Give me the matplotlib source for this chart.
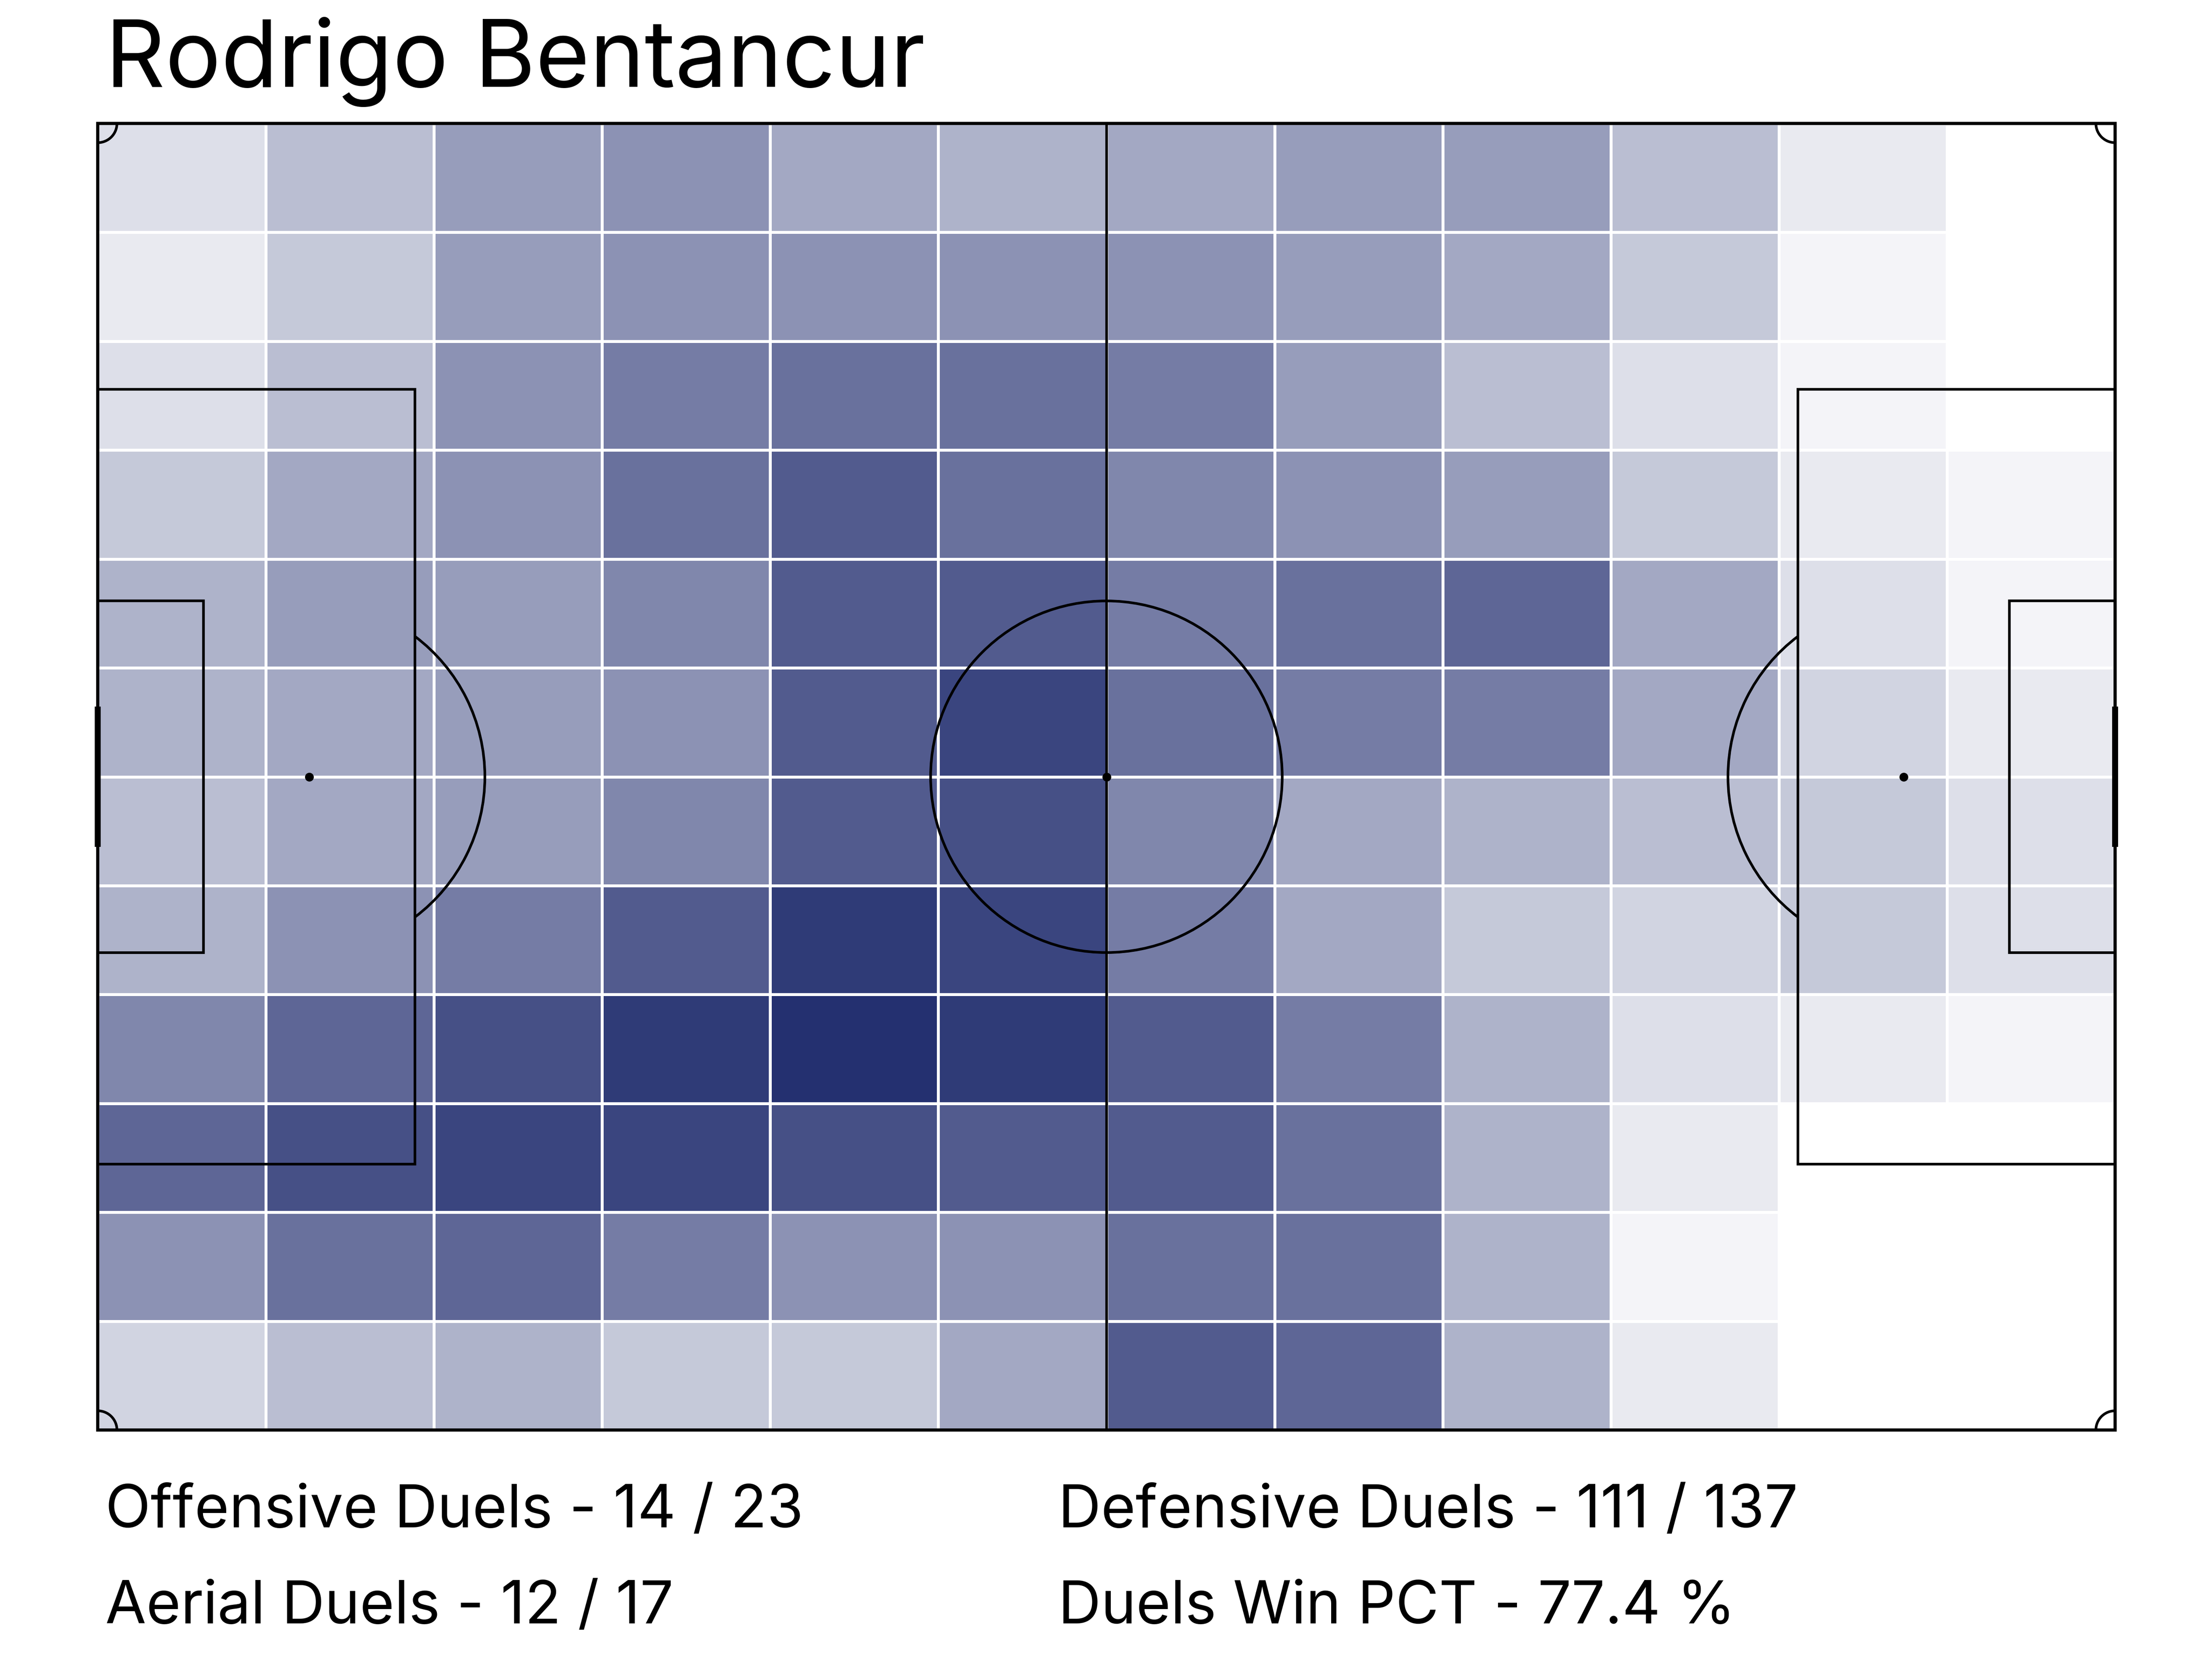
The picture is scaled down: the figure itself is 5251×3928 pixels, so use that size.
import numpy as np
import matplotlib
matplotlib.use("Agg")
import matplotlib.pyplot as plt
from matplotlib.colors import LinearSegmentedColormap
from matplotlib.patches import Rectangle, Arc, Circle

# ---------------- data ----------------
player_name = "Rodrigo Bentancur"
# duel counts per zone (12 rows top->bottom, 12 columns left->right)
row_00 = [3, 6, 9, 10, 8, 7, 8, 9, 9, 6, 2, 0]
row_01 = [2, 5, 9, 10, 10, 10, 10, 9, 8, 5, 1, 0]
row_02 = [3, 6, 10, 12, 13, 13, 12, 9, 6, 3, 1, 0]
row_03 = [5, 8, 10, 13, 15, 13, 11, 10, 9, 5, 2, 1]
row_04 = [7, 9, 9, 11, 15, 15, 12, 13, 14, 8, 3, 1]
row_05 = [7, 8, 9, 10, 15, 17, 13, 12, 12, 8, 4, 2]
row_06 = [6, 8, 9, 11, 15, 16, 11, 8, 7, 6, 5, 3]
row_07 = [7, 10, 12, 15, 18, 17, 12, 8, 5, 4, 5, 3]
row_08 = [11, 14, 16, 18, 19, 18, 15, 12, 7, 3, 2, 1]
row_09 = [14, 16, 17, 17, 16, 15, 15, 13, 7, 2, 0, 0]
row_10 = [10, 13, 14, 12, 10, 10, 13, 13, 7, 1, 0, 0]
row_11 = [4, 6, 7, 5, 5, 8, 15, 14, 7, 2, 0, 0]

stat_labels = ["Offensive Duels - 14 / 23", "Defensive Duels - 111 / 137",
               "Aerial Duels - 12 / 17", "Duels Win PCT - 77.4 %"]

# ---------------- figure ----------------
plt.rcParams['font.family'] = ['Inter', 'DejaVu Sans']
W, H, DPI = 5251, 3929, 300
fig = plt.figure(figsize=(W / DPI, H / DPI), dpi=DPI)
fig.patch.set_facecolor('white')

L, B = 232 / W, 1 - 3395 / H
ax = fig.add_axes([L, B, 4789 / W, 3101 / H])
ax.set_xlim(0, 105)
ax.set_ylim(0, 68)
ax.axis('off')

grid = np.array([row_00, row_01, row_02, row_03, row_04, row_05,
                 row_06, row_07, row_08, row_09, row_10, row_11], dtype=float)
nrows, ncols = grid.shape
x_edges = np.linspace(0, 105, ncols + 1)
y_edges = np.linspace(68, 0, nrows + 1)

cmap = LinearSegmentedColormap.from_list("duels", ["#FFFFFF", "#243070"])
ax.pcolormesh(x_edges, y_edges, grid, cmap=cmap, vmin=0, vmax=19,
              edgecolors='white', linewidth=1.6, zorder=1)

# ---------------- pitch ----------------
lc = 'black'
lw = 1.5
kw = dict(color=lc, lw=lw, zorder=3, clip_on=False)

ax.add_patch(Rectangle((0, 0), 105, 68, fill=False, ec=lc, lw=1.8, zorder=3, clip_on=False))
ax.plot([52.5, 52.5], [0, 68], **kw)
ax.add_patch(Circle((52.5, 34), 9.15, fill=False, ec=lc, lw=lw, zorder=3))
ang = np.degrees(np.arccos(5.5 / 9.15))
for side in (0, 1):
    if side == 0:
        ax.add_patch(Rectangle((0, 34 - 20.16), 16.5, 40.32, fill=False, ec=lc, lw=lw, zorder=3))
        ax.add_patch(Rectangle((0, 34 - 9.16), 5.5, 18.32, fill=False, ec=lc, lw=lw, zorder=3))
        ax.add_patch(Arc((11, 34), 18.3, 18.3, theta1=-ang, theta2=ang, ec=lc, lw=lw, zorder=3))
        ax.plot([0, 0], [34 - 3.66, 34 + 3.66], color=lc, lw=3.4, zorder=4, clip_on=False,
                solid_capstyle='butt')
    else:
        ax.add_patch(Rectangle((105 - 16.5, 34 - 20.16), 16.5, 40.32, fill=False, ec=lc, lw=lw, zorder=3))
        ax.add_patch(Rectangle((105 - 5.5, 34 - 9.16), 5.5, 18.32, fill=False, ec=lc, lw=lw, zorder=3))
        ax.add_patch(Arc((94, 34), 18.3, 18.3, theta1=180 - ang, theta2=180 + ang, ec=lc, lw=lw, zorder=3))
        ax.plot([105, 105], [34 - 3.66, 34 + 3.66], color=lc, lw=3.4, zorder=4, clip_on=False,
                solid_capstyle='butt')

ax.plot([11, 52.5, 94], [34, 34, 34], 'o', color=lc, ms=4, zorder=4, lw=0)

for (cx, cy, t1, t2) in [(0, 0, 0, 90), (0, 68, 270, 360), (105, 0, 90, 180), (105, 68, 180, 270)]:
    ax.add_patch(Arc((cx, cy), 2, 2, theta1=t1, theta2=t2, ec=lc, lw=lw, zorder=3))

# ---------------- texts ----------------
fig.text(250 / W, 1 - 206 / H, player_name, fontsize=53, ha='left', va='baseline')
xs = [250 / W, 2512 / W, 250 / W, 2512 / W]
ys = [1 - 3625 / H, 1 - 3625 / H, 1 - 3853 / H, 1 - 3853 / H]
for s, x, y in zip(stat_labels, xs, ys):
    fig.text(x, y, s, fontsize=33.8, ha='left', va='baseline')

fig.savefig("out.png", dpi=DPI, facecolor='white')
